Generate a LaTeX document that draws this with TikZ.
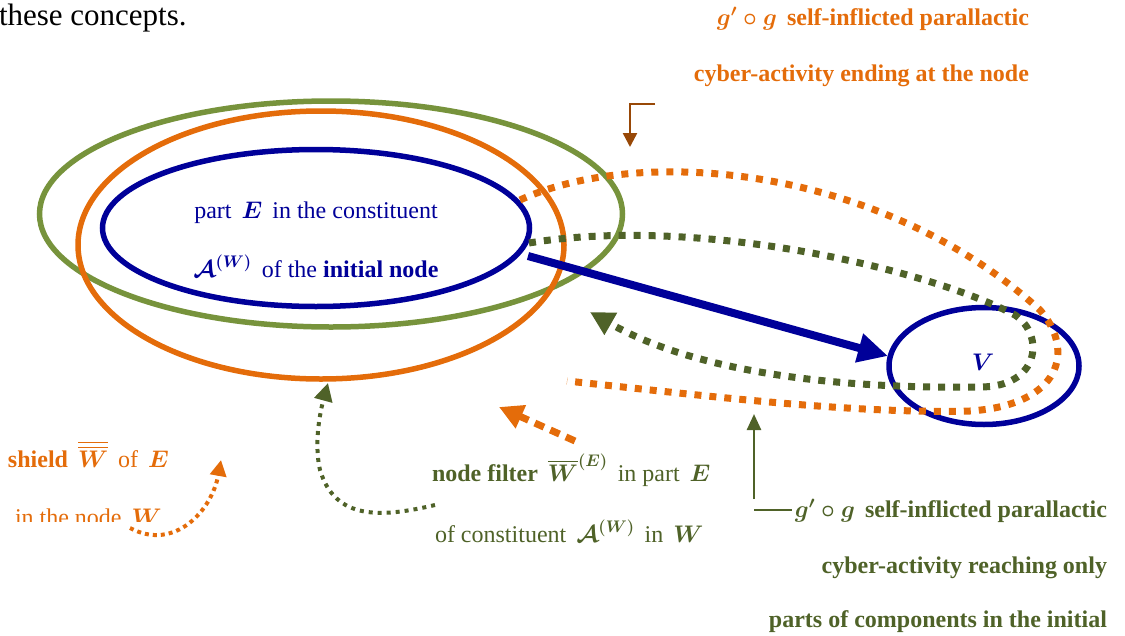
\documentclass[tikz,border=0pt]{standalone}
\usepackage{fix-cm}
\usepackage{amsmath,amssymb}
\usepackage{fontspec}
\setmainfont{Liberation Serif}
\usetikzlibrary{arrows.meta,shapes.geometric}
\definecolor{orng}{RGB}{228,108,10}
\definecolor{olv}{RGB}{119,147,60}
\definecolor{dgrn}{RGB}{79,98,40}
\definecolor{nvy}{RGB}{0,0,153}
\definecolor{brn}{RGB}{152,72,7}
\newcommand{\gap}{\hspace{10pt}}
\begin{document}
\begin{tikzpicture}[x=1pt,y=-1pt,
  every node/.style={inner sep=0pt,outer sep=0pt},
  lbl/.style={font=\fontsize{24}{28}\selectfont},
  ell/.style={ellipse,draw,line width=5.5pt},
  odot/.style={draw=orng,line width=7pt,dash pattern=on 7pt off 8pt},
  gdot/.style={draw=dgrn,line width=7pt,dash pattern=on 7pt off 8pt},
  tip/.style={-{Triangle[length=#1,width=#1]}}]
\useasboundingbox (0,0) rectangle (1125,635);

% body text
\node[font=\fontsize{31}{36}\selectfont,anchor=base west] (intro) at (-1,25) {these concepts.};

% ellipses
\node[ell,draw=olv,minimum width=583pt,minimum height=226pt] (green) at (331,214) {};
\node[ell,draw=orng,minimum width=486pt,minimum height=268pt] (orange) at (321,245) {};
\node[ell,draw=nvy,minimum width=427pt,minimum height=157pt] (blue) at (316,228) {};
\node[ell,draw=nvy,minimum width=190pt,minimum height=117pt] (vnode) at (984,366) {};
\node[lbl,text=nvy] (vlab) at (983,362) {$\boldsymbol V$};

% texts in blue ellipse
\node[lbl,text=nvy,anchor=base] (b1) at (316,218) {part\gap$\boldsymbol E$\gap in the constituent};
\node[lbl,text=nvy,anchor=base] (b2) at (316,277) {$\boldsymbol{\mathcal A}^{\boldsymbol{(W)}}$\gap of the \textbf{initial node}};

% coordinates
\coordinate (oS) at (520,200);
\coordinate (oE) at (567,381);
\coordinate (gS) at (529,243);
\coordinate (gE) at (590,312);
\coordinate (aS) at (528,256);
\coordinate (aE) at (888,356);

% dotted loops
\draw[odot] (oS) .. controls (640,145) and (880,165) .. (1040,310)
  .. controls (1075,350) and (1062,405) .. (970,411)
  .. controls (850,414) and (700,395) .. (oE);
\draw[gdot,tip=24pt] (gS) .. controls (700,215) and (930,270) .. (1015,315)
  .. controls (1045,335) and (1040,387) .. (980,387)
  .. controls (850,389) and (700,375) .. (gE);

% main blue arrow
\draw[nvy,line width=8pt,-{Triangle[length=30pt,width=28pt]}] (aS) -- (aE);

% top orange label
\node[lbl,text=orng,anchor=base east] (t1) at (1029,25) {$\boldsymbol{g'\circ g}$\gap\textbf{self-inflicted parallactic}};
\node[lbl,text=orng,anchor=base east] (t2) at (1029,81) {\textbf{cyber-activity ending at the node}};
\coordinate (brA) at (655,104);
\coordinate (brB) at (630,104);
\coordinate (brC) at (630,147);
\draw[brn,line width=2.5pt,-{Triangle[length=14pt,width=14pt]}] (brA) -- (brB) -- (brC);

% shield label
\node[lbl,text=orng,anchor=base west] (s1) at (8,467) {\textbf{shield}\gap$\overline{\overline{\boldsymbol W}}$\gap of\gap$\boldsymbol E$};
\begin{scope}
\clip (0,0) rectangle (400,521);
\node[lbl,text=orng,anchor=base west] (s2) at (15,525) {in the node\gap$\boldsymbol W$};
\end{scope}
\coordinate (sA) at (130,528);
\coordinate (sB) at (221,460);
\draw[orng,line width=4pt,dash pattern=on 4pt off 4pt,tip=16pt] (sA) .. controls (175,552) and (212,510) .. (sB);

% node filter label
\node[lbl,text=dgrn,anchor=base west] (f1) at (432,481) {\textbf{node filter}\gap$\overline{\boldsymbol W}^{\boldsymbol{(E)}}$\gap in part\gap$\boldsymbol E$};
\node[lbl,text=dgrn,anchor=base west] (f2) at (435,542) {of constituent\gap$\boldsymbol{\mathcal A}^{\boldsymbol{(W)}}$\gap in\gap$\boldsymbol W$};
\coordinate (fA) at (435,505);
\coordinate (fM) at (320,470);
\coordinate (fB) at (328,383);
\draw[dgrn,line width=4pt,dash pattern=on 4pt off 5pt,tip=18pt] (fA) .. controls (380,518) and (335,520) .. (fM)
  .. controls (313,440) and (322,405) .. (fB);

% short orange arrow
\coordinate (qA) at (575,441);
\coordinate (qB) at (499,407);
\draw[orng,line width=7pt,dash pattern=on 10pt off 7pt,tip=24pt] (qA) -- (qB);

% bottom right label
\node[lbl,text=dgrn,anchor=base east] (r1) at (1107,517) {$\boldsymbol{g'\circ g}$\gap\textbf{self-inflicted parallactic}};
\node[lbl,text=dgrn,anchor=base east] (r2) at (1107,573) {\textbf{cyber-activity reaching only}};
\node[lbl,text=dgrn,anchor=base east] (r3) at (1107,627) {\textbf{parts of components in the initial}};
\coordinate (uA) at (754,499);
\coordinate (uB) at (754,414);
\draw[dgrn,line width=2.5pt,-{Triangle[length=16pt,width=14pt]}] (uA) -- (uB);
\coordinate (hA) at (754,510);
\coordinate (hB) at (792,510);
\draw[dgrn,line width=2pt] (hA) -- (hB);
\end{tikzpicture}
\end{document}
